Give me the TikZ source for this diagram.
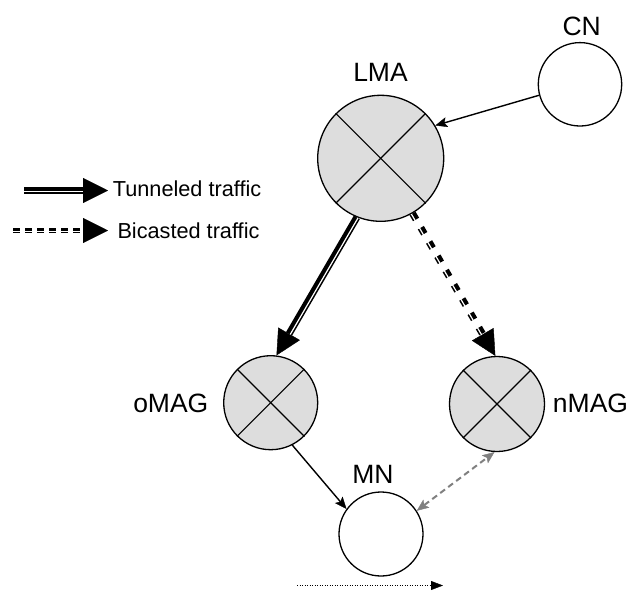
\documentclass[tikz,border=0pt]{standalone}
\usepackage{fontspec}
\setmainfont{Liberation Sans}
\usetikzlibrary{arrows.meta,calc}
\definecolor{nodefill}{HTML}{DDDDDD}
\definecolor{linkgray}{HTML}{808080}
\tikzset{
  smalltip/.tip={Stealth[length=12pt,width=10pt,inset=2.5pt,line width=0.4pt]},
  router/.style={circle, draw, line width=1.3pt, fill=nodefill, inner sep=0pt, minimum size=#1},
  host/.style={circle, draw, line width=1.3pt, fill=white, inner sep=0pt, minimum size=#1},
  lbl/.style={inner sep=0pt, anchor=base, font=\fontsize{26.5}{30}\selectfont},
  legendtext/.style={inner sep=0pt, anchor=base west, font=\fontsize{21.7}{26}\selectfont},
  bigtip/.style={-{Triangle[length=25pt,width=25pt,line width=0.4pt]}},
  signal/.style={line width=1.4pt, -{smalltip}},
  tunnel/.style={line width=7pt, bigtip},
  bicast/.style={line width=7pt, dash pattern=on 7pt off 9.5pt, bigtip},
  innergap/.style={white, line width=1.2pt, shorten >=25pt},
  radiolink/.style={linkgray, line width=2pt, dash pattern=on 6pt off 4pt,
    {smalltip}-{smalltip}},
  movement/.style={line width=1.4pt, dash pattern=on 1.4pt off 1.1pt,
    -{Triangle[length=12pt,width=9pt,line width=0.4pt]}},
}
\begin{document}
\begin{tikzpicture}[x=1pt, y=-1pt]
\useasboundingbox (0,0) rectangle (630,590);

% nodes
\node[router=126pt] (lma)  at (380.7,158.3) {};
\node[host=83.4pt]  (cn)   at (580,84.3) {};
\node[router=94pt]  (omag) at (270.7,402.7) {};
\node[router=95pt]  (nmag) at (497,404) {};
\node[host=84pt]    (mn)   at (381,534) {};

% crosses inside the gateways
\foreach \n in {lma,omag,nmag} {
  \draw[line width=1.1pt] (\n.45) -- (\n.225);
  \draw[line width=1.1pt] (\n.135) -- (\n.315);
}

% labels
\node[lbl] (lmalbl)  at (380.5,81.7) {LMA};
\node[lbl] (cnlbl)   at (581.7,35) {CN};
\node[lbl] (mnlbl)   at (373,483.3) {MN};
\node[lbl] (omaglbl) at (170.8,412.3) {oMAG};
\node[lbl] (nmaglbl) at (590.5,412) {nMAG};

% legend
\coordinate (tl0) at (24,190.5);
\coordinate (tl1) at (108,190.5);
\coordinate (bl0) at (13,230.5);
\coordinate (bl1) at (108,230.5);
\draw[line width=7pt, bigtip] (tl0) -- (tl1);
\draw[innergap] ($(tl0)!1.3pt!-90:(tl1)$) -- ($(tl1)!1.3pt!90:(tl0)$);
\draw[line width=5.5pt, dash pattern=on 7pt off 5pt, bigtip] (bl0) -- (bl1);
\draw[innergap, line width=0.9pt] ($(bl0)!1pt!-90:(bl1)$) -- ($(bl1)!1pt!90:(bl0)$);
\node[legendtext] (tunnellbl) at (112.7,196.7) {Tunneled traffic};
\node[legendtext] (bicastlbl) at (117.3,238.3) {Bicasted traffic};

% connectors
\draw[signal] (cn.195) -- (lma.31);
\draw[signal] (omag.297.6) -- (mn.144);
\draw[radiolink] (mn.33) -- (nmag.267.5);

\draw[tunnel] (lma.248) -- (omag.83);
\draw[innergap] ($(lma.248)!1.3pt!90:(omag.83)$) -- ($(omag.83)!1.3pt!-90:(lma.248)$);

\draw[bicast] (lma.300) -- (nmag.92);
\draw[innergap] ($(lma.300)!1.3pt!-90:(nmag.92)$) -- ($(nmag.92)!1.3pt!90:(lma.300)$);

% movement of the MN
\coordinate (mv0) at (297,585.5);
\coordinate (mv1) at (443,585.5);
\draw[movement] (mv0) -- (mv1);
\end{tikzpicture}
\end{document}
